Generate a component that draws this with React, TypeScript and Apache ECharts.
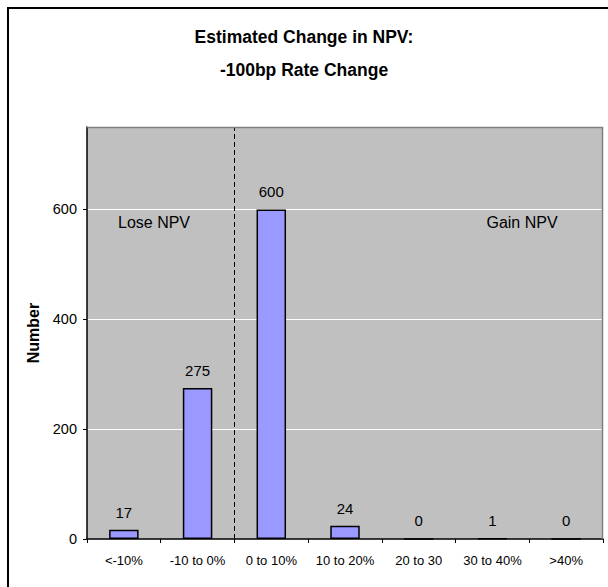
import React, { useEffect, useRef } from "react";
import * as echarts from "echarts";

const categories = ["<-10%", "-10 to 0%", "0 to 10%", "10 to 20%", "20 to 30", "30 to 40%", ">40%"];
const counts = [17, 275, 600, 24, 0, 1, 0];
const yTicks = [0, 200, 400, 600];
const titleLines = ["Estimated Change in NPV:", "-100bp Rate Change"];
const yAxisName = "Number";
const annotations = ["Lose NPV", "Gain NPV"];
const dividerAt = 2; // boundary between "-10 to 0%" and "0 to 10%"

const FONT = "'Liberation Sans', Arial, sans-serif";

export default function App() {
  const ref = useRef<HTMLDivElement>(null);
  useEffect(() => {
    if (!ref.current) return;
    const chart = echarts.init(ref.current, undefined, { renderer: "svg" });
    const gl = 87, gt = 127, gw = 516, gh = 412;
    chart.setOption({
      animation: false,
      backgroundColor: "#ffffff",
      title: {
        text: titleLines.join("\n"),
        left: "center",
        top: 20,
        padding: 0,
        textStyle: { fontFamily: FONT, fontSize: 17.5, fontWeight: "bold", color: "#000", lineHeight: 33 },
      },
      grid: { left: gl, top: gt, width: gw, height: gh, show: true, backgroundColor: "#c0c0c0", borderWidth: 0 },
      xAxis: [
        {
          type: "category",
          data: categories,
          axisLine: { lineStyle: { color: "#000", width: 1.5 } },
          axisTick: { show: true, length: 4, interval: 0, lineStyle: { color: "#000" } },
          axisLabel: { color: "#000", fontFamily: FONT, fontSize: 13, margin: 15, interval: 0 },
          splitLine: { show: false },
        },
        { type: "value", min: 0, max: categories.length, show: false },
      ],
      yAxis: {
        type: "value",
        min: 0,
        max: 750,
        interval: 200,
        name: yAxisName,
        nameLocation: "middle",
        nameRotate: 90,
        nameGap: 39,
        nameTextStyle: { fontFamily: FONT, fontSize: 16, fontWeight: "bold", color: "#000" },
        axisLine: { show: true, lineStyle: { color: "#000", width: 1.5 } },
        axisTick: { show: true, length: 4, lineStyle: { color: "#000" }, customValues: yTicks },
        axisLabel: { color: "#000", fontFamily: FONT, fontSize: 14.5, margin: 10, customValues: yTicks },
        splitLine: { show: true, lineStyle: { color: "#ffffff", width: 1 } },
      },
      series: [
        {
          type: "bar",
          data: counts,
          barWidth: "40%",
          itemStyle: { color: "#9999ff", borderColor: "#000", borderWidth: 1.5 },
          label: { show: true, position: "top", distance: 10, color: "#000", fontFamily: FONT, fontSize: 15 },
        },
        {
          type: "scatter",
          xAxisIndex: 1,
          data: [],
          silent: true,
          markLine: {
            silent: true,
            symbol: "none",
            label: { show: false },
            lineStyle: { color: "#000", type: [5, 3], width: 1 },
            data: [{ xAxis: dividerAt }],
          },
        },
      ],
      graphic: [
        {
          type: "polyline",
          z: 100,
          shape: { points: [[gl, gt + 0.5], [gl + gw - 0.5, gt + 0.5], [gl + gw - 0.5, gt + gh]] },
          style: { stroke: "#808080", fill: null, lineWidth: 1.5 },
        },
        {
          type: "polyline",
          z: 100,
          shape: { points: [[8, 587], [8, 8], [608, 8]] },
          style: { stroke: "#000", fill: null, lineWidth: 2 },
        },
        {
          type: "text",
          z: 100,
          x: 154,
          y: 222,
          style: { text: annotations[0], fontFamily: FONT, fontSize: 16, fill: "#000", align: "center", verticalAlign: "middle" },
        },
        {
          type: "text",
          z: 100,
          x: 522,
          y: 222,
          style: { text: annotations[1], fontFamily: FONT, fontSize: 16, fill: "#000", align: "center", verticalAlign: "middle" },
        },
      ],
    });
    return () => chart.dispose();
  }, []);
  return <div ref={ref} style={{ position: "absolute", left: 0, top: 0, width: 608, height: 587 }} />;
}
